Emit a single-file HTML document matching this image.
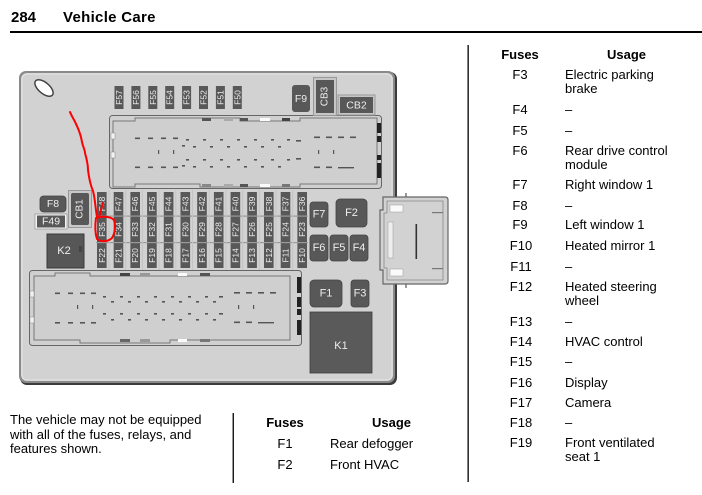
<!DOCTYPE html>
<html><head><meta charset="utf-8">
<style>
html,body{margin:0;padding:0;background:#fff;}
body{width:702px;height:495px;position:relative;overflow:hidden;font-family:"Liberation Sans",Arial,sans-serif;color:#000;}
.a{position:absolute;white-space:nowrap;}
.t{font-size:13px;line-height:14px;}
.b{font-weight:bold;}
.fc{width:40px;text-align:center;}
svg{position:absolute;left:0;top:0;}
</style></head><body>
<svg width="702" height="495" viewBox="0 0 702 495" xmlns="http://www.w3.org/2000/svg" font-family="Liberation Sans, Arial, sans-serif">
<!-- header rule -->
<rect x="10" y="31" width="692" height="2" fill="#000"/>
<!-- vertical dividers -->
<rect x="467.5" y="45" width="1.3" height="437" fill="#000"/>
<rect x="232.6" y="413" width="1.3" height="70" fill="#000"/>

<!-- box -->
<rect x="20" y="72" width="377" height="313" rx="7" fill="#3c3c3c"/>
<rect x="19" y="71" width="376" height="312" rx="7" fill="#8a8a8a"/>
<rect x="21" y="73" width="372" height="308" rx="6" fill="#d2d2d2"/>
<rect x="22" y="74" width="370" height="306" rx="5" fill="none" stroke="#e4e4e4" stroke-width="1"/>
<!-- slot -->
<ellipse cx="44" cy="88" rx="11" ry="5.5" transform="rotate(40 44 88)" fill="#fff" stroke="#444" stroke-width="1.5"/>

<!-- top fuses -->
<g fill="#585858">
<rect x="114.5" y="86" width="9" height="23"/><rect x="131.4" y="86" width="9" height="23"/><rect x="148.3" y="86" width="9" height="23"/><rect x="165.2" y="86" width="9" height="23"/><rect x="182.1" y="86" width="9" height="23"/><rect x="199" y="86" width="9" height="23"/><rect x="215.9" y="86" width="9" height="23"/><rect x="232.8" y="86" width="9" height="23"/>
</g>
<g fill="#eee" font-size="8.5" text-anchor="middle" dominant-baseline="central">
<text transform="translate(119,97.5) rotate(-90)">F57</text>
<text transform="translate(135.9,97.5) rotate(-90)">F56</text>
<text transform="translate(152.8,97.5) rotate(-90)">F55</text>
<text transform="translate(169.7,97.5) rotate(-90)">F54</text>
<text transform="translate(186.6,97.5) rotate(-90)">F53</text>
<text transform="translate(203.5,97.5) rotate(-90)">F52</text>
<text transform="translate(220.4,97.5) rotate(-90)">F51</text>
<text transform="translate(237.3,97.5) rotate(-90)">F50</text>
</g>

<!-- upper connector -->
<rect x="109.5" y="115.5" width="272" height="73" rx="3" fill="#d0d0d0" stroke="#666" stroke-width="1"/>
<path d="M113 121 H135 V118 H240 V121 H300 V118 H377 V184 H300 V187 H200 V184 H135 V187 H113 Z" fill="#cfcfcf" stroke="#777" stroke-width="1"/>
<rect x="111" y="133" width="4" height="6" fill="#f2f2f2" stroke="#888" stroke-width="0.5"/>
<rect x="111" y="152" width="4" height="6" fill="#f2f2f2" stroke="#888" stroke-width="0.5"/>
<g fill="#555">
<rect x="240" y="118" width="8" height="3"/><rect x="282" y="118" width="8" height="3" fill="#444"/><rect x="202" y="118" width="9" height="3"/>
<rect x="240" y="184" width="8" height="3"/><rect x="282" y="184" width="8" height="3" fill="#777"/><rect x="202" y="184" width="9" height="3" fill="#888"/>
<rect x="377" y="123" width="4" height="10" fill="#222"/><rect x="377" y="136" width="4" height="6" fill="#222"/><rect x="377" y="155" width="4" height="5" fill="#222"/><rect x="377" y="163" width="4" height="15" fill="#222"/>
</g>
<rect x="260" y="118" width="10" height="3" fill="#fafafa"/><rect x="224" y="118" width="9" height="3" fill="#aaa"/>
<rect x="260" y="184" width="10" height="3" fill="#fafafa"/><rect x="224" y="184" width="9" height="3" fill="#aaa"/>
<g fill="#555">
<rect x="135" y="137.5" width="5" height="1.6"/><rect x="148" y="137.5" width="5" height="1.6"/><rect x="161" y="137.5" width="5" height="1.6"/><rect x="173" y="137.5" width="5" height="1.6"/>
<rect x="135" y="166.5" width="5" height="1.6"/><rect x="148" y="166.5" width="5" height="1.6"/><rect x="161" y="166.5" width="5" height="1.6"/><rect x="173" y="166.5" width="5" height="1.6"/>
<rect x="158" y="150" width="1.2" height="4"/><rect x="173" y="150" width="1.2" height="4"/>
<rect x="314" y="136.5" width="6" height="1.6"/><rect x="326" y="136.5" width="6" height="1.6"/><rect x="338" y="136.5" width="6" height="1.6"/><rect x="350" y="136.5" width="6" height="1.6"/>
<rect x="314" y="166.5" width="6" height="1.6"/><rect x="326" y="166.5" width="6" height="1.6"/><rect x="338" y="167" width="16" height="1.4"/>
<rect x="318" y="150" width="1.2" height="4"/><rect x="333" y="150" width="1.2" height="4"/>
</g>
<g fill="#555">
<rect x="186" y="139" width="3" height="1.6"/><rect x="203" y="139" width="3" height="1.6"/><rect x="220" y="139" width="3" height="1.6"/><rect x="237" y="139" width="3" height="1.6"/><rect x="254" y="139" width="3" height="1.6"/><rect x="271" y="139" width="3" height="1.6"/><rect x="287" y="139" width="3" height="1.6"/><rect x="296" y="140" width="5" height="1.6"/>
<rect x="193" y="146" width="3" height="1.6"/><rect x="210" y="146" width="3" height="1.6"/><rect x="227" y="146" width="3" height="1.6"/><rect x="244" y="146" width="3" height="1.6"/><rect x="261" y="146" width="3" height="1.6"/><rect x="278" y="146" width="3" height="1.6"/><rect x="182" y="145" width="3" height="1.6"/>
<rect x="186" y="159" width="3" height="1.6"/><rect x="203" y="159" width="3" height="1.6"/><rect x="220" y="159" width="3" height="1.6"/><rect x="237" y="159" width="3" height="1.6"/><rect x="254" y="159" width="3" height="1.6"/><rect x="271" y="159" width="3" height="1.6"/><rect x="287" y="159" width="3" height="1.6"/><rect x="296" y="158" width="5" height="1.6"/>
<rect x="193" y="166" width="3" height="1.6"/><rect x="210" y="166" width="3" height="1.6"/><rect x="227" y="166" width="3" height="1.6"/><rect x="244" y="166" width="3" height="1.6"/><rect x="261" y="166" width="3" height="1.6"/><rect x="278" y="166" width="3" height="1.6"/><rect x="182" y="165" width="3" height="1.6"/>
</g>

<!-- F9, CB3, CB2 -->
<rect x="292" y="85" width="18" height="27" rx="3" fill="#585858"/>
<text x="301" y="99" fill="#eee" font-size="10.5" text-anchor="middle" dominant-baseline="central">F9</text>
<rect x="313.5" y="77.5" width="23" height="38" fill="#c6c6c6" stroke="#999" stroke-width="1"/>
<rect x="316" y="80" width="18" height="33" fill="#585858"/>
<text transform="translate(325,96.5) rotate(-90)" fill="#eee" font-size="10" text-anchor="middle" dominant-baseline="central">CB3</text>
<rect x="338" y="95" width="37" height="20" fill="#c6c6c6" stroke="#999" stroke-width="1"/>
<rect x="340" y="97" width="33" height="16" fill="#585858"/>
<text x="356.5" y="105.5" fill="#eee" font-size="10.5" text-anchor="middle" dominant-baseline="central">CB2</text>

<!-- left components -->
<rect x="40" y="196" width="26" height="16" rx="3.5" fill="#585858" stroke="#444" stroke-width="0.8"/>
<text x="53" y="204" fill="#eee" font-size="10.5" text-anchor="middle" dominant-baseline="central">F8</text>
<rect x="35" y="214" width="32" height="15" fill="#f4f4f4" stroke="#999" stroke-width="0.8"/>
<rect x="37" y="215.5" width="28" height="12" fill="#585858"/>
<text x="51" y="221.5" fill="#eee" font-size="10.5" text-anchor="middle" dominant-baseline="central">F49</text>
<rect x="68.5" y="190.5" width="23" height="37" fill="#c8c8c8" stroke="#999" stroke-width="1"/>
<rect x="71" y="193" width="18" height="32" rx="2" fill="#585858"/>
<text transform="translate(80,209) rotate(-90)" fill="#eee" font-size="10" text-anchor="middle" dominant-baseline="central">CB1</text>
<rect x="47" y="234" width="37" height="34" fill="#575757" stroke="#3a3a3a" stroke-width="1"/>
<rect x="79" y="246" width="3" height="6" fill="#444"/>
<text x="64" y="251" fill="#eee" font-size="11" text-anchor="middle" dominant-baseline="central">K2</text>

<!-- fuse grid -->
<g fill="#585858">
<rect x="97" y="192" width="9.6" height="76"/><rect x="113.7" y="192" width="9.6" height="76"/><rect x="130.4" y="192" width="9.6" height="76"/><rect x="147.1" y="192" width="9.6" height="76"/><rect x="163.8" y="192" width="9.6" height="76"/><rect x="180.5" y="192" width="9.6" height="76"/><rect x="197.2" y="192" width="9.6" height="76"/><rect x="213.9" y="192" width="9.6" height="76"/><rect x="230.6" y="192" width="9.6" height="76"/><rect x="247.3" y="192" width="9.6" height="76"/><rect x="264" y="192" width="9.6" height="76"/><rect x="280.7" y="192" width="9.6" height="76"/><rect x="297.4" y="192" width="9.6" height="76"/>
</g>
<g fill="#9a9a9a">
<rect x="96" y="215.5" width="212" height="1.2"/><rect x="96" y="242" width="212" height="1.2"/>
</g>
<g fill="#c4c4c4">
<rect x="108.5" y="190" width="1" height="80"/><rect x="125.2" y="190" width="1" height="80"/><rect x="141.9" y="190" width="1" height="80"/><rect x="158.6" y="190" width="1" height="80"/><rect x="175.3" y="190" width="1" height="80"/><rect x="192" y="190" width="1" height="80"/><rect x="208.7" y="190" width="1" height="80"/><rect x="225.4" y="190" width="1" height="80"/><rect x="242.1" y="190" width="1" height="80"/><rect x="258.8" y="190" width="1" height="80"/><rect x="275.5" y="190" width="1" height="80"/><rect x="292.2" y="190" width="1" height="80"/>
</g>
<g fill="#eee" font-size="8.5" text-anchor="middle" dominant-baseline="central">
<text transform="translate(101.8,204) rotate(-90)">F48</text>
<text transform="translate(118.5,204) rotate(-90)">F47</text>
<text transform="translate(135.2,204) rotate(-90)">F46</text>
<text transform="translate(151.9,204) rotate(-90)">F45</text>
<text transform="translate(168.6,204) rotate(-90)">F44</text>
<text transform="translate(185.3,204) rotate(-90)">F43</text>
<text transform="translate(202,204) rotate(-90)">F42</text>
<text transform="translate(218.7,204) rotate(-90)">F41</text>
<text transform="translate(235.4,204) rotate(-90)">F40</text>
<text transform="translate(252.1,204) rotate(-90)">F39</text>
<text transform="translate(268.8,204) rotate(-90)">F38</text>
<text transform="translate(285.5,204) rotate(-90)">F37</text>
<text transform="translate(302.2,204) rotate(-90)">F36</text>

<text transform="translate(101.8,229.5) rotate(-90)">F35</text>
<text transform="translate(118.5,229.5) rotate(-90)">F34</text>
<text transform="translate(135.2,229.5) rotate(-90)">F33</text>
<text transform="translate(151.9,229.5) rotate(-90)">F32</text>
<text transform="translate(168.6,229.5) rotate(-90)">F31</text>
<text transform="translate(185.3,229.5) rotate(-90)">F30</text>
<text transform="translate(202,229.5) rotate(-90)">F29</text>
<text transform="translate(218.7,229.5) rotate(-90)">F28</text>
<text transform="translate(235.4,229.5) rotate(-90)">F27</text>
<text transform="translate(252.1,229.5) rotate(-90)">F26</text>
<text transform="translate(268.8,229.5) rotate(-90)">F25</text>
<text transform="translate(285.5,229.5) rotate(-90)">F24</text>
<text transform="translate(302.2,229.5) rotate(-90)">F23</text>

<text transform="translate(101.8,255.5) rotate(-90)">F22</text>
<text transform="translate(118.5,255.5) rotate(-90)">F21</text>
<text transform="translate(135.2,255.5) rotate(-90)">F20</text>
<text transform="translate(151.9,255.5) rotate(-90)">F19</text>
<text transform="translate(168.6,255.5) rotate(-90)">F18</text>
<text transform="translate(185.3,255.5) rotate(-90)">F17</text>
<text transform="translate(202,255.5) rotate(-90)">F16</text>
<text transform="translate(218.7,255.5) rotate(-90)">F15</text>
<text transform="translate(235.4,255.5) rotate(-90)">F14</text>
<text transform="translate(252.1,255.5) rotate(-90)">F13</text>
<text transform="translate(268.8,255.5) rotate(-90)">F12</text>
<text transform="translate(285.5,255.5) rotate(-90)">F11</text>
<text transform="translate(302.2,255.5) rotate(-90)">F10</text>
</g>

<!-- right-side fuses -->
<g fill="#585858" stroke="#444" stroke-width="0.8">
<rect x="310" y="202" width="18" height="25" rx="3"/>
<rect x="336" y="199" width="31" height="28" rx="4"/>
<rect x="310" y="235" width="18" height="26" rx="3"/>
<rect x="330" y="235" width="18" height="26" rx="3"/>
<rect x="350" y="235" width="18" height="26" rx="3"/>
<rect x="310" y="280" width="32" height="27" rx="4"/>
<rect x="351" y="280" width="18" height="27" rx="3"/>
<rect x="310" y="312" width="62" height="61" fill="#5a5a5a" stroke="#3c3c3c"/>
</g>
<g fill="#eee" font-size="11" text-anchor="middle" dominant-baseline="central">
<text x="319" y="214.5">F7</text>
<text x="351.5" y="213">F2</text>
<text x="319" y="248">F6</text>
<text x="339" y="248">F5</text>
<text x="359" y="248">F4</text>
<text x="326" y="293.5">F1</text>
<text x="360" y="293.5">F3</text>
<text x="341" y="346">K1</text>
</g>

<!-- side connector -->
<rect x="405" y="193" width="2" height="5" fill="#999"/>
<rect x="405" y="283" width="2" height="5" fill="#999"/>
<path d="M383 197 H445 Q448 197 448 200 V281 Q448 284 445 284 H383 V270 H380 V210 H383 Z" fill="#d2d2d2" stroke="#666" stroke-width="1.2"/>
<path d="M387 201 H443 V280 H387 V268 H384 V213 H387 Z" fill="none" stroke="#888" stroke-width="0.8"/>
<rect x="390" y="205" width="13" height="7" fill="#fafafa" stroke="#999" stroke-width="0.5"/>
<rect x="390" y="269" width="13" height="7" fill="#fafafa" stroke="#999" stroke-width="0.5"/>
<rect x="388" y="222" width="5" height="36" fill="#eee" stroke="#999" stroke-width="0.5"/>
<rect x="415.5" y="224" width="1.6" height="35" fill="#333"/>
<rect x="432" y="212" width="11" height="1.2" fill="#777"/>
<rect x="432" y="268" width="11" height="1.2" fill="#777"/>

<!-- lower connector -->
<rect x="29.5" y="270.5" width="272" height="75" rx="3" fill="#d0d0d0" stroke="#666" stroke-width="1"/>
<path d="M34 276 H55 V273 H90 V276 H290 V340 H170 V343 H80 V340 H34 Z" fill="#cfcfcf" stroke="#777" stroke-width="1"/>
<rect x="30" y="291" width="4" height="6" fill="#f2f2f2" stroke="#888" stroke-width="0.5"/>
<rect x="30" y="317" width="4" height="6" fill="#f2f2f2" stroke="#888" stroke-width="0.5"/>
<g>
<rect x="120" y="273" width="10" height="3" fill="#444"/><rect x="140" y="273" width="10" height="3" fill="#999"/><rect x="178" y="273" width="9" height="3" fill="#fafafa"/><rect x="200" y="273" width="10" height="3" fill="#555"/>
<rect x="120" y="339" width="10" height="3" fill="#666"/><rect x="140" y="339" width="10" height="3" fill="#999"/><rect x="178" y="339" width="9" height="3" fill="#fafafa"/><rect x="200" y="339" width="10" height="3" fill="#777"/>
<rect x="297" y="277" width="4" height="16" fill="#222"/><rect x="297" y="297" width="4" height="10" fill="#222"/><rect x="297" y="309" width="4" height="6" fill="#222"/><rect x="297" y="320" width="4" height="15" fill="#222"/>
</g>
<g fill="#555">
<rect x="55" y="292.5" width="5" height="1.6"/><rect x="68" y="292.5" width="5" height="1.6"/><rect x="80" y="292.5" width="5" height="1.6"/><rect x="91" y="292.5" width="5" height="1.6"/>
<rect x="55" y="322" width="5" height="1.6"/><rect x="68" y="322" width="5" height="1.6"/><rect x="80" y="322" width="5" height="1.6"/><rect x="91" y="322" width="5" height="1.6"/>
<rect x="77" y="305" width="1.2" height="4"/><rect x="92" y="305" width="1.2" height="4"/>
<rect x="234" y="292" width="6" height="1.6"/><rect x="246" y="292" width="6" height="1.6"/><rect x="258" y="292" width="6" height="1.6"/><rect x="270" y="292" width="6" height="1.6"/>
<rect x="234" y="321.5" width="6" height="1.6"/><rect x="246" y="321.5" width="6" height="1.6"/><rect x="258" y="322" width="16" height="1.4"/>
<rect x="238" y="305" width="1.2" height="4"/><rect x="253" y="305" width="1.2" height="4"/>
</g>
<g fill="#555">
<rect x="103" y="296" width="3" height="1.6"/><rect x="120" y="296" width="3" height="1.6"/><rect x="137" y="296" width="3" height="1.6"/><rect x="154" y="296" width="3" height="1.6"/><rect x="171" y="296" width="3" height="1.6"/><rect x="188" y="296" width="3" height="1.6"/><rect x="205" y="296" width="3" height="1.6"/><rect x="219" y="296" width="4" height="1.6"/>
<rect x="111" y="301" width="3" height="1.6"/><rect x="128" y="301" width="3" height="1.6"/><rect x="145" y="301" width="3" height="1.6"/><rect x="162" y="301" width="3" height="1.6"/><rect x="179" y="301" width="3" height="1.6"/><rect x="196" y="301" width="3" height="1.6"/><rect x="213" y="301" width="3" height="1.6"/>
<rect x="103" y="313" width="3" height="1.6"/><rect x="120" y="313" width="3" height="1.6"/><rect x="137" y="313" width="3" height="1.6"/><rect x="154" y="313" width="3" height="1.6"/><rect x="171" y="313" width="3" height="1.6"/><rect x="188" y="313" width="3" height="1.6"/><rect x="205" y="313" width="3" height="1.6"/><rect x="219" y="313" width="4" height="1.6"/>
<rect x="111" y="319" width="3" height="1.6"/><rect x="128" y="319" width="3" height="1.6"/><rect x="145" y="319" width="3" height="1.6"/><rect x="162" y="319" width="3" height="1.6"/><rect x="179" y="319" width="3" height="1.6"/><rect x="196" y="319" width="3" height="1.6"/><rect x="213" y="319" width="3" height="1.6"/>
</g>

<!-- red annotation -->
<g fill="none" stroke="#f00" stroke-width="2" stroke-linecap="round" stroke-linejoin="round">
<path d="M70 112 C72 117 75 121 76 124 C79 130 81 136 82 142 C83 147 85 150 85 153 C87 160 88 166 88 170 C89 178 90 184 93 191 C95 198 95 205 97 217"/>
<path d="M103 203 L99 217"/>
<path d="M96 218 C102 216 110 216 114 220 C116 226 115 233 112 238 C108 242 101 242 97 239 C95 233 95 225 96 218"/>
</g>
</svg>

<!-- header -->
<div class="a b" style="left:11px;top:10px;font-size:15px;line-height:15px;">284</div>
<div class="a b" style="left:63px;top:10px;font-size:15px;line-height:15px;letter-spacing:0.3px;">Vehicle Care</div>

<!-- right table -->
<div class="a t b fc" style="left:500px;top:48px;">Fuses</div>
<div class="a t b" style="left:607px;top:48px;">Usage</div>

<div class="a t fc" style="left:500px;top:68px;">F3</div><div class="a t" style="left:565px;top:68px;">Electric parking<br>brake</div>
<div class="a t fc" style="left:500px;top:103px;">F4</div><div class="a t" style="left:565px;top:103px;">–</div>
<div class="a t fc" style="left:500px;top:124px;">F5</div><div class="a t" style="left:565px;top:124px;">–</div>
<div class="a t fc" style="left:500px;top:144px;">F6</div><div class="a t" style="left:565px;top:144px;">Rear drive control<br>module</div>
<div class="a t fc" style="left:500px;top:178px;">F7</div><div class="a t" style="left:565px;top:178px;">Right window 1</div>
<div class="a t fc" style="left:500px;top:199px;">F8</div><div class="a t" style="left:565px;top:199px;">–</div>
<div class="a t fc" style="left:500px;top:218px;">F9</div><div class="a t" style="left:565px;top:218px;">Left window 1</div>
<div class="a t fc" style="left:501px;top:239px;">F10</div><div class="a t" style="left:565px;top:239px;">Heated mirror 1</div>
<div class="a t fc" style="left:501px;top:260px;">F11</div><div class="a t" style="left:565px;top:260px;">–</div>
<div class="a t fc" style="left:501px;top:280px;">F12</div><div class="a t" style="left:565px;top:280px;">Heated steering<br>wheel</div>
<div class="a t fc" style="left:501px;top:315px;">F13</div><div class="a t" style="left:565px;top:315px;">–</div>
<div class="a t fc" style="left:501px;top:335px;">F14</div><div class="a t" style="left:565px;top:335px;">HVAC control</div>
<div class="a t fc" style="left:501px;top:355px;">F15</div><div class="a t" style="left:565px;top:355px;">–</div>
<div class="a t fc" style="left:501px;top:376px;">F16</div><div class="a t" style="left:565px;top:376px;">Display</div>
<div class="a t fc" style="left:501px;top:396px;">F17</div><div class="a t" style="left:565px;top:396px;">Camera</div>
<div class="a t fc" style="left:501px;top:416px;">F18</div><div class="a t" style="left:565px;top:416px;">–</div>
<div class="a t fc" style="left:501px;top:436px;">F19</div><div class="a t" style="left:565px;top:436px;">Front ventilated<br>seat 1</div>

<!-- bottom left note -->
<div class="a" style="left:10px;top:413px;font-size:13px;line-height:14.5px;">The vehicle may not be equipped<br>with all of the fuses, relays, and<br>features shown.</div>

<!-- bottom table -->
<div class="a t b fc" style="left:265px;top:416px;">Fuses</div>
<div class="a t b" style="left:372px;top:416px;">Usage</div>
<div class="a t fc" style="left:265px;top:437px;">F1</div><div class="a t" style="left:330px;top:437px;">Rear defogger</div>
<div class="a t fc" style="left:265px;top:458px;">F2</div><div class="a t" style="left:330px;top:458px;">Front HVAC</div>
</body></html>
